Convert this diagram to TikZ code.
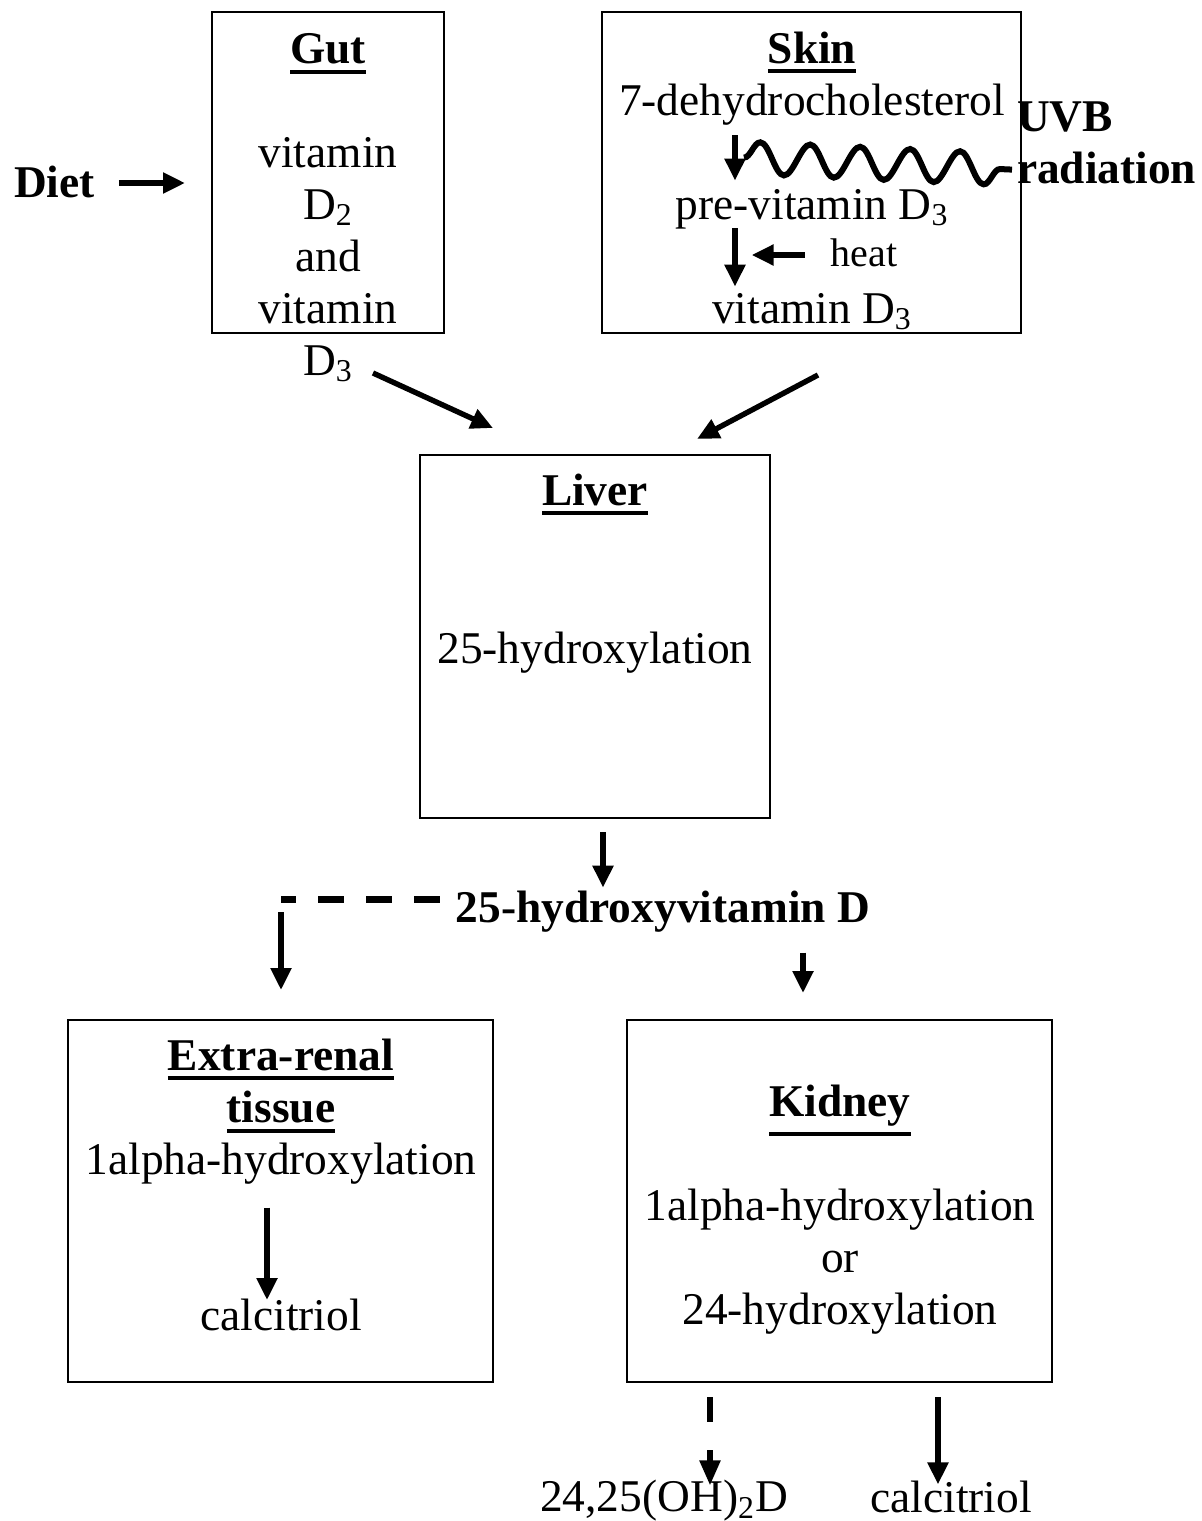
\documentclass[tikz,border=0pt]{standalone}
\usepackage{fontspec}
\setmainfont{Liberation Serif}
\usetikzlibrary{arrows.meta,calc,decorations.pathmorphing}
\tikzset{
	box/.style={draw, line width=1pt, inner sep=0, outer sep=0},
	block/.style={inner sep=0, outer sep=0},
	lbl/.style={inner sep=0, outer sep=0, text height=18.2pt, text depth=7.8pt},
	arr/.style={line width=2.7pt, -{Triangle[length=11pt,width=10pt]}},
	dashline/.style={line width=3.5pt, dash pattern=on 13pt off 11pt},
	wave/.style={line width=3pt, decorate, decoration={snake, segment length=25pt, amplitude=8pt}}
}
\newcommand{\organ}[1]{\textbf{\setbox0\hbox{#1}\rlap{\rule[-\dimexpr\dp0+5pt\relax]{\wd0}{2pt}}\box0}}

\begin{document}
\begin{tikzpicture}[x=0.5pt, y=-0.5pt, font=\fontsize{22.7}{26}\selectfont]
	\useasboundingbox (0,0) rectangle (1202,1521);
	\node[lbl] (diet) at (54.5,186.6) {\textbf{Diet}};
	\node[box, minimum width=116pt, minimum height=160.5pt] (gut) at (328,172.5) {};
	\node[block] (gutt) at (328,208.6) {\begin{tabular}{@{}c@{}} \organ{Gut} \\ \\ vitamin \\ D\textsubscript{2} \\ and \\ vitamin \\ D\textsubscript{3} \end{tabular}};
	\node[box, minimum width=209.5pt, minimum height=160.5pt] (skin) at (811.5,172.5) {};
	\node[lbl] (skint) at (812,52.6) {\organ{Skin}};
	\node[lbl] (dhc) at (812,104.6) {7-dehydrocholesterol};
	\node[lbl] (previt) at (812,208.6) {pre-vitamin D\textsubscript{3}};
	\node[lbl] (vitd) at (812,312.6) {vitamin D\textsubscript{3}};
	\node[lbl, font=\fontsize{20}{24}\selectfont] (heat) at (864,255.6) {heat};
	\node[block, anchor=west] (uvb) at (1017,146.6) {\begin{tabular}{@{}l@{}} \textbf{UVB} \\ \textbf{radiation} \end{tabular}};
	\node[box, minimum width=175pt, minimum height=181.5pt] (liver) at (595,636.5) {};
	\node[lbl] (livert) at (595,494.6) {\organ{Liver}};
	\node[lbl] (hydrox) at (595,652.6) {25-hydroxylation};
	\node[lbl] (hyd) at (663,911.6) {\textbf{25-hydroxyvitamin D}};
	\node[box, minimum width=212.5pt, minimum height=181pt] (extra) at (280.5,1201) {};
	\node[block] (extrat) at (281,1111.6) {\begin{tabular}{@{}c@{}} \organ{Extra-renal} \\ \organ{tissue} \\ 1alpha-hydroxylation \end{tabular}};
	\node[lbl] (ecalc) at (281,1319.6) {calcitriol};
	\node[box, minimum width=212.5pt, minimum height=181pt] (kidney) at (839.5,1201) {};
	\node[lbl] (kidt) at (840,1105.6) {\organ{Kidney}};
	\node[block] (kidtext) at (840,1261.6) {\begin{tabular}{@{}c@{}} 1alpha-hydroxylation \\ or \\ 24-hydroxylation \end{tabular}};
	\node[lbl] (dihyd) at (664,1501) {24,25(OH)\textsubscript{2}D};
	\node[lbl] (kcalc) at (951,1502) {calcitriol};
	\coordinate (bend) at ($(extra.north)+(0.5,-121)$);
	\draw[arr] ($(diet.east)+(24,-3.6)$) -- ($(gut.west)+(-27,10.5)$);
	\draw[arr] ($(dhc.south)+(-77,4.4)$) -- ($(previt.north)+(-77,-2)$);
	\draw[wave] ($(dhc.south)+(-68,27)$) -- ($(uvb.west)+(-5,23)$);
	\draw[arr] ($(previt.south)+(-77,-6.6)$) -- ($(vitd.north)+(-77,0)$);
	\draw[arr] ($(heat.west)+(-26,-0.6)$) -- ($(heat.west)+(-79,-0.6)$);
	\draw[arr] ($(gut.south)+(45,40)$) -- ($(liver.north)+(-102,-27)$);
	\draw[arr] ($(skin.south)+(6.5,42)$) -- ($(liver.north)+(102,-16)$);
	\draw[arr] ($(liver.south)+(8,14)$) -- ($(hyd.north)+(-60,2)$);
	\draw[dashline] ($(hyd.west)+(-16,-12.6)$) -- (bend);
	\draw[arr] ($(bend)+(0,13)$) -- ($(extra.north)+(0.5,-30)$);
	\draw[arr] ($(hyd.south)+(140,15)$) -- ($(kidney.north)+(-36.5,-27)$);
	\draw[arr] ($(extrat.south)+(-14,18)$) -- ($(ecalc.north)+(-14,6.4)$);
	\draw[arr, -{Triangle[length=12.5pt,width=10pt]}, dash pattern=on 12.5pt off 14pt] ($(kidney.south)+(-129.5,15)$) -- ($(dihyd.north)+(46,10.4)$);
	\draw[arr] ($(kidney.south)+(98.5,15)$) -- ($(kcalc.north)+(-13,8.4)$);
\end{tikzpicture}
\end{document}
